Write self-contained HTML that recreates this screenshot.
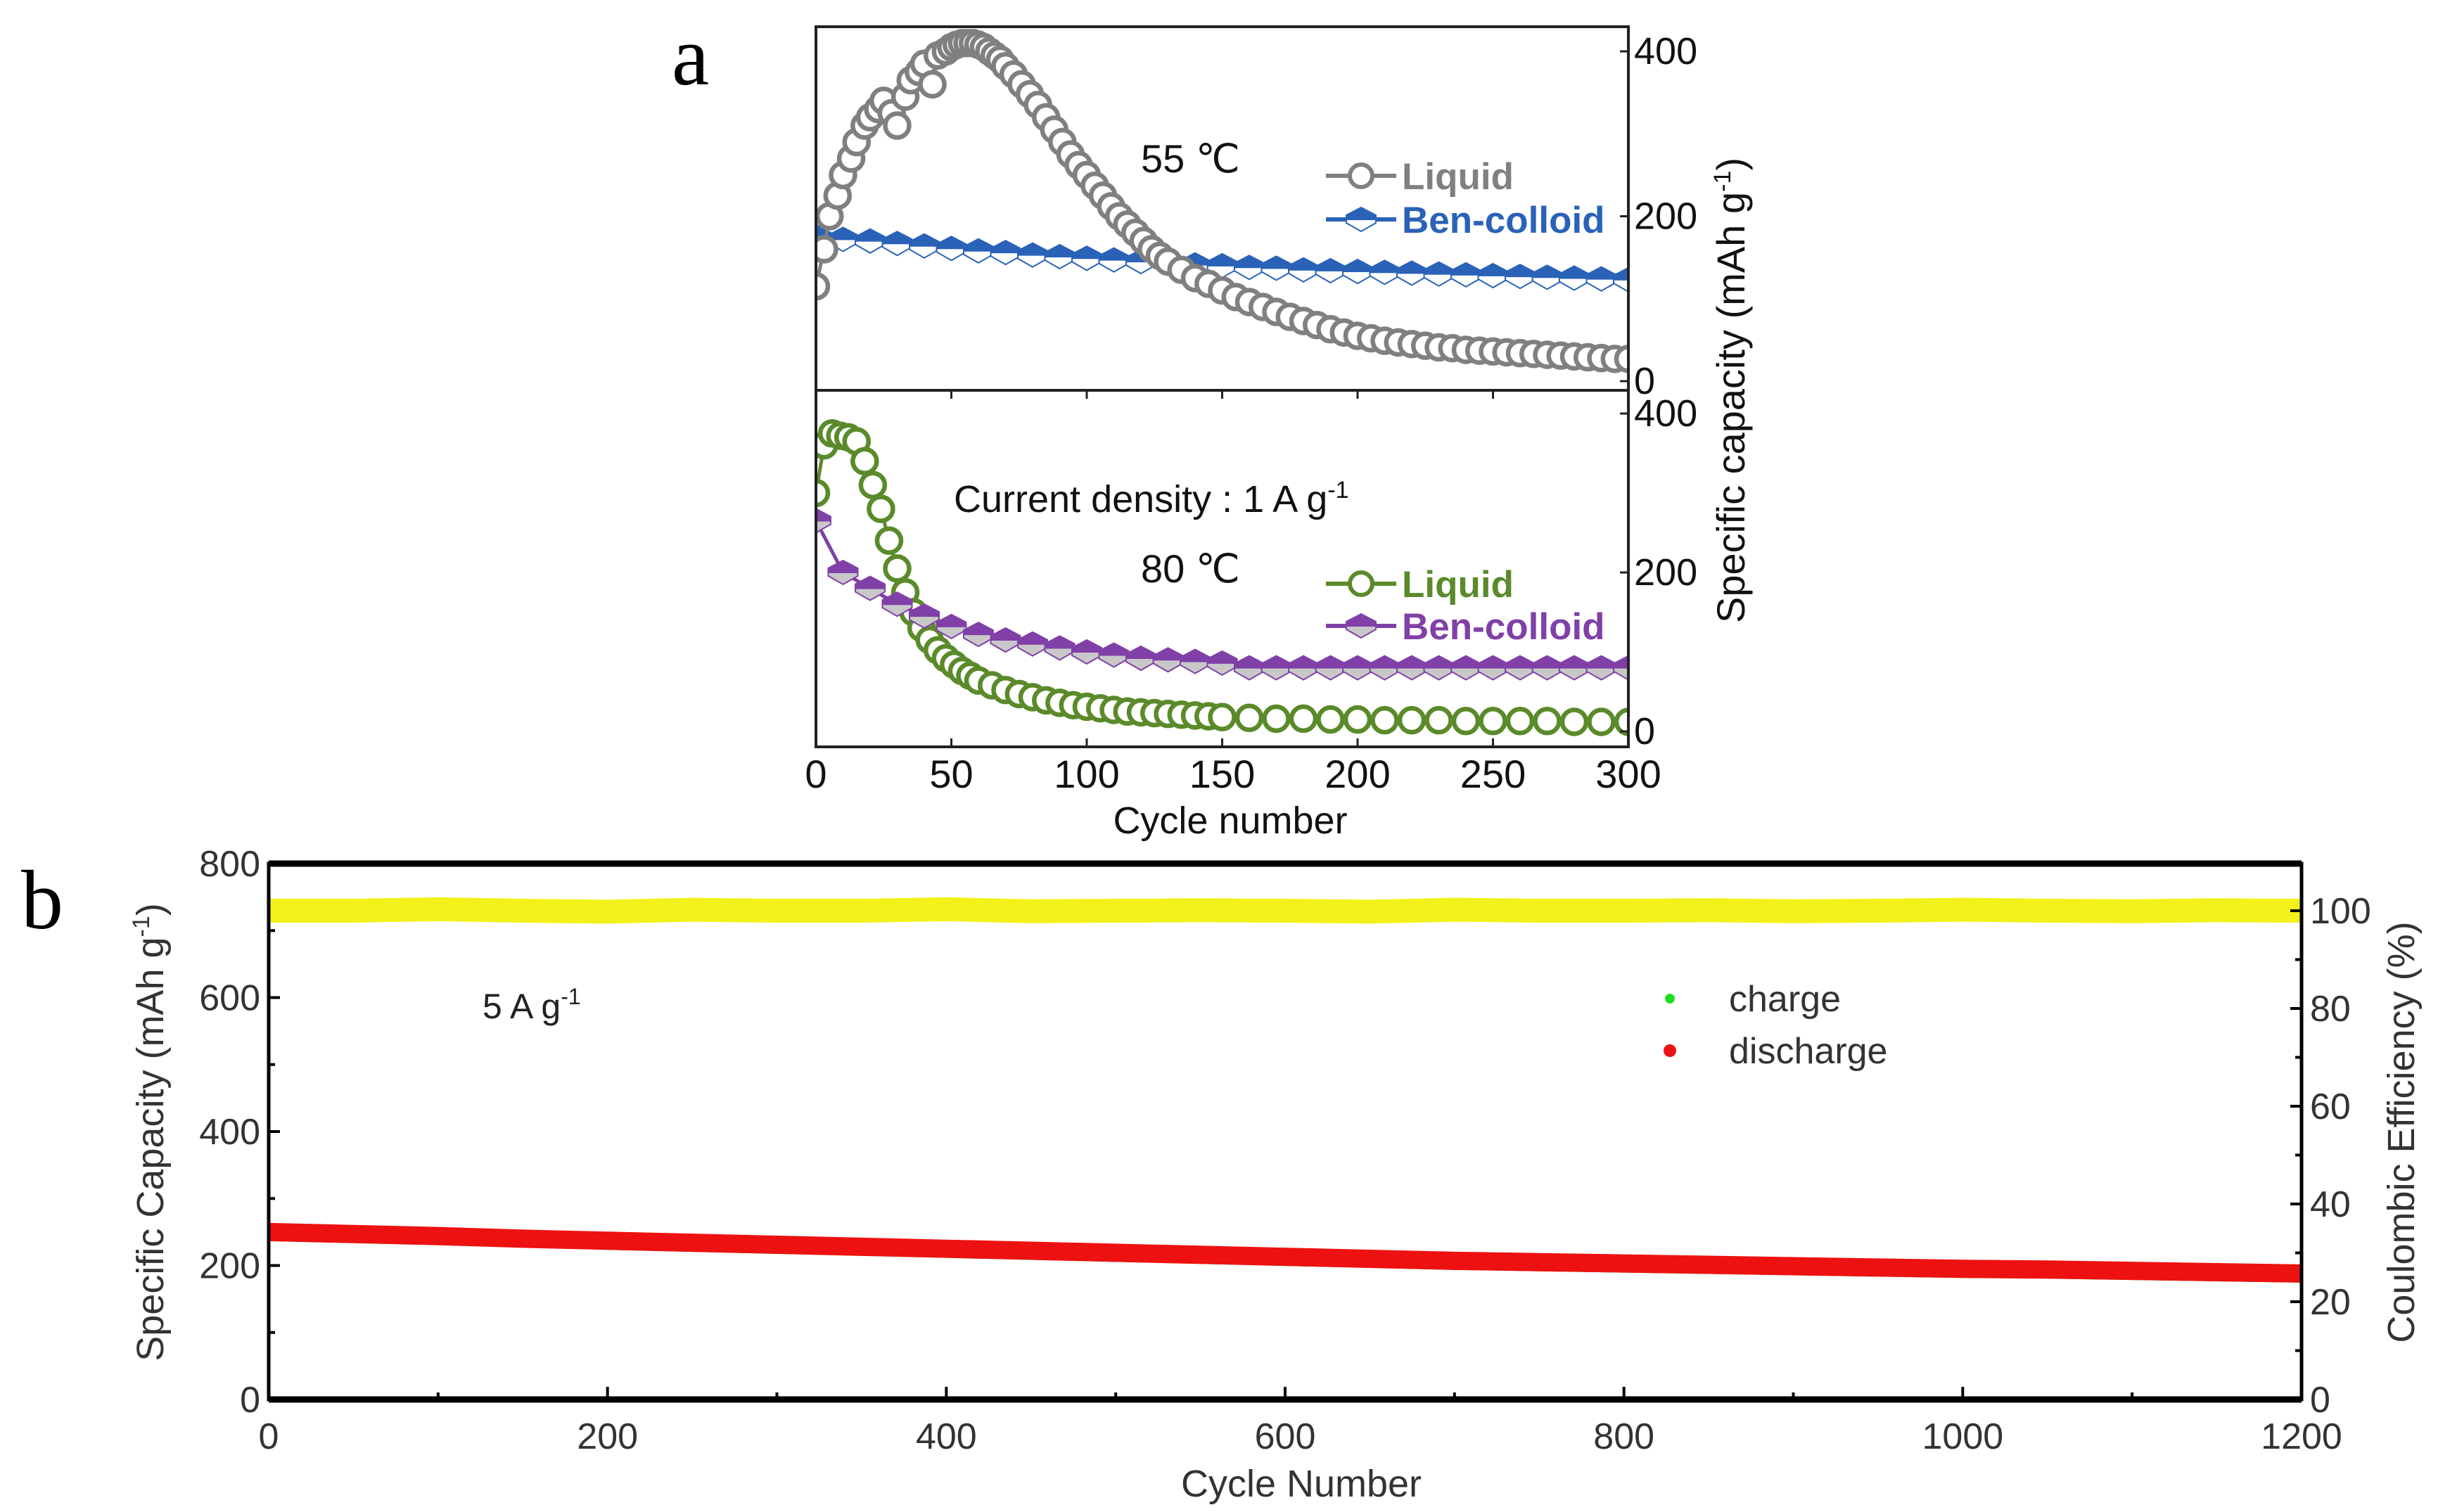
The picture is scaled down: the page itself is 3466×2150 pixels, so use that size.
<!DOCTYPE html>
<html><head><meta charset="utf-8">
<style>
html,body{margin:0;padding:0;background:#fff;}
svg{display:block;font-family:"Liberation Sans",sans-serif;}
</style></head>
<body>
<svg id="fig" width="3466" height="2150" viewBox="0 0 3466 2150" xmlns="http://www.w3.org/2000/svg">
<g id="pa"></g>
<g id="pb"></g>
</svg>
<script>
// ---------- Panel a data ----------
const liq55X = [0,3,5,8,10,13,15,18,20,23,25,28,30,33,35,38,40,43,45,48,50,52,54,56,58,60,62,64,66,68,70,73,76,79,82,85,88,91,94,97,100,103,106,109,112,115,118,121,124,127,130,135,140,145,150,155,160,165,170,175,180,185,190,195,200,205,210,215,220,225,230,235,240,245,250,255,260,265,270,275,280,285,290,295,300];
const liq55Y = [115,160,200,225,250,270,290,310,320,330,340,325,310,345,365,375,385,360,395,400,405,408,410,410,410,408,405,400,395,390,382,372,360,348,335,320,305,290,275,262,250,237,225,212,200,190,180,170,160,152,145,135,125,118,110,102,96,90,84,78,73,68,63,59,55,52,49,47,45,43,41,40,38,37,36,35,34,33,32,31,30,29,28,27,27];
const ben55X = [0,10,20,30,40,50,60,70,80,90,100,110,120,130,140,150,160,170,180,190,200,210,220,230,240,250,260,270,280,290,300];
const ben55Y = [175,172,170,167,164,161,158,156,153,151,149,147,145,143,141,140,138,137,135,134,133,132,131,130,129,128,127,126,125,124,123];
const liq80X = [0,3,6,9,12,15,18,21,24,27,30,33,36,39,42,45,48,51,54,57,60,65,70,75,80,85,90,95,100,105,110,115,120,125,130,135,140,145,150,160,170,180,190,200,210,220,230,240,250,260,270,280,290,300];
const liq80Y = [300,360,375,372,370,365,340,310,280,240,205,175,150,130,115,102,92,84,76,70,64,58,52,47,43,39,36,33,31,29,27,25,24,23,22,21,20,19,18,17,16,16,15,15,14,14,14,13,13,13,13,12,12,12];
const ben80X = [0,10,20,30,40,50,60,70,80,90,100,110,120,130,140,150,160,170,180,190,200,210,220,230,240,250,260,270,280,290,300];
const ben80Y = [265,200,180,160,145,132,122,115,110,105,100,96,92,90,88,86,80,80,80,80,80,80,80,80,80,80,80,80,80,80,80];
const aXTicks = [0,50,100,150,200,250,300];
const aYTicks = [0,200,400];

// ---------- Panel b data ----------
const bX = [0,50,100,150,200,250,300,350,400,450,500,550,600,650,700,750,800,850,900,950,1000,1050,1100,1150,1200];
const dischargeY = [250,247,244,240,237,234,231,228,225,222,219,216,213,210,207,205,203,201,199,197,195,194,192,190,188];
const chargeY = [249,246,243,240,236,233,230,227,224,221,218,215,212,209,206,204,202,200,198,196,194,193,191,189,187];
const ceY = [100,100,100.3,100,99.8,100.2,100,100,100.3,99.9,100,100.1,100,99.8,100.2,100,100,100.1,99.9,100,100.2,100,99.9,100.1,100];
const bXTicks = [0,200,400,600,800,1000,1200];
const bYTicks = [0,200,400,600,800];
const bY2Ticks = [0,20,40,60,80,100];

const NS = "http://www.w3.org/2000/svg";
function mk(tag, attrs, parent, txt){
  const e = document.createElementNS(NS, tag);
  for (const k in attrs) e.setAttribute(k, attrs[k]);
  if (txt !== undefined) e.textContent = txt;
  parent.appendChild(e);
  return e;
}
const pa = document.getElementById('pa');
const pb = document.getElementById('pb');

// ===== Panel a =====
const aL = 1160, aR = 2315;
const ax = v => aL + (v/300)*(aR-aL);
const topY = v => 542 - (v/400)*(542-73);
const botY = v => 1040 - (v/400)*(1040-588);

let t = mk('text',{x:955,y:120,'font-family':'Liberation Serif, serif','font-size':120},pa,'a');



function hexMarker(parent, cx, cy, color, lowerFill, name){
  const g = mk('g',{},parent);
  
  
  const w = 21, h = 17;
  mk('path',{d:`M${cx-w},${cy} L${cx-w},${cy-6} L${cx},${cy-h} L${cx+w},${cy-6} L${cx+w},${cy} Z`,fill:color,stroke:color,'stroke-width':2},g);
  mk('path',{d:`M${cx-w},${cy} L${cx-w},${cy+5} L${cx},${cy+h} L${cx+w},${cy+5} L${cx+w},${cy} Z`,fill:lowerFill,stroke:color,'stroke-width':2},g);
}
function circleSeries(parent, xs, ys, fy, color, name){
  const pts = xs.map((x,i)=>ax(x)+','+fy(ys[i])).join(' ');
  const l = mk('polyline',{points:pts,fill:'none',stroke:color,'stroke-width':5},parent);
  
  
  xs.forEach((x,i)=>{
    const c = mk('circle',{cx:ax(x),cy:fy(ys[i]),r:17,fill:'#fff',stroke:color,'stroke-width':6.5},parent);
    
    
  });
}
function hexSeries(parent, xs, ys, fy, color, lower, name){
  const pts = xs.map((x,i)=>ax(x)+','+fy(ys[i])).join(' ');
  const l = mk('polyline',{points:pts,fill:'none',stroke:color,'stroke-width':5},parent);
  
  
  xs.forEach((x,i)=>hexMarker(parent, ax(x), fy(ys[i]), color, lower, name+'-point'));
}

const clipT = mk('clipPath',{id:'cT'},pa); mk('rect',{x:aL,y:40,width:aR-aL,height:515},clipT);
const clipB = mk('clipPath',{id:'cB'},pa); mk('rect',{x:aL,y:555,width:aR-aL,height:507},clipB);
const gT = mk('g',{'clip-path':'url(#cT)'},pa);


hexSeries(gT, ben55X, ben55Y, topY, '#2a62b8', '#fff', 'ben-colloid-55');
circleSeries(gT, liq55X, liq55Y, topY, '#808080', 'liquid-55');
const gB = mk('g',{'clip-path':'url(#cB)'},pa);


circleSeries(gB, liq80X, liq80Y, botY, '#5a8a2a', 'liquid-80');
hexSeries(gB, ben80X, ben80Y, botY, '#8040a8', '#c8c8c8', 'ben-colloid-80');

let r = mk('rect',{x:aL,y:38,width:aR-aL,height:517,fill:'none',stroke:'#222','stroke-width':4},pa);
 
r = mk('rect',{x:aL,y:555,width:aR-aL,height:507,fill:'none',stroke:'#222','stroke-width':4},pa);
 

aXTicks.forEach(v=>{
  mk('line',{x1:ax(v),x2:ax(v),y1:1062,y2:1050,stroke:'#222','stroke-width':3},pa);
  mk('line',{x1:ax(v),x2:ax(v),y1:555,y2:567,stroke:'#222','stroke-width':3},pa);
  const tt = mk('text',{x:ax(v),y:1120,'font-size':56,'text-anchor':'middle',fill:'#111'},pa,String(v));
  
  
});
aYTicks.forEach(v=>{
  [[topY,'top'],[botY,'bottom']].forEach(([f,nm])=>{
    mk('line',{x1:aR,x2:aR-12,y1:f(v),y2:f(v),stroke:'#222','stroke-width':3},pa);
    const tt = mk('text',{x:aR+8,y:f(v)+18,'font-size':54,fill:'#111'},pa,String(v));
    
    
  });
});
t = mk('text',{x:1749,y:1185,'font-size':54,'text-anchor':'middle',fill:'#111'},pa,'Cycle number');
 
t = mk('text',{transform:'translate(2480,555) rotate(-90)','font-size':56,'text-anchor':'middle',fill:'#111'},pa);
 
t.innerHTML = 'Specific capacity  (mAh g<tspan dy="-20" font-size="34">-1</tspan><tspan dy="20">)</tspan>';

function txt(parent,x,y,s,size,fill,name,weight){
  const e = mk('text',{x:x,y:y,'font-size':size,fill:fill,'font-weight':weight||'normal'},parent,s);
  
  
  return e;
}
txt(pa,1622,245,'55 ℃',56,'#111','label-55c');
txt(pa,1622,828,'80 ℃',56,'#111','label-80c');
t = txt(pa,1356,728,'',54,'#111','current-density-label');
t.innerHTML = 'Current density : 1 A g<tspan dy="-20" font-size="34">-1</tspan>';

function legendEntry(parent,y,color,label,kind,lower,name){
  const g = mk('g',{},parent);
  
  
  mk('line',{x1:1885,x2:1985,y1:y,y2:y,stroke:color,'stroke-width':6},g);
  if(kind==='c') mk('circle',{cx:1935,cy:y,r:16,fill:'#fff',stroke:color,'stroke-width':6},g);
  else hexMarker(g,1935,y,color,lower,name+'-marker');
  mk('text',{x:1993,y:y+19,'font-size':53,'font-weight':'bold',fill:color},g,label);
}
legendEntry(pa,250,'#808080','Liquid','c','','legend-liquid-55');
legendEntry(pa,312,'#2a62b8','Ben-colloid','h','#fff','legend-ben-colloid-55');
legendEntry(pa,830,'#5a8a2a','Liquid','c','','legend-liquid-80');
legendEntry(pa,890,'#8040a8','Ben-colloid','h','#c8c8c8','legend-ben-colloid-80');

// ===== Panel b =====
const bL = 382, bR = 3272, bT = 1228, bB = 1990;
const bx = v => bL + (v/1200)*(bR-bL);
const by = v => bB - (v/800)*(bB-bT);
const by2 = v => bB - (v/100)*(bB-1295);

t = mk('text',{x:30,y:1320,'font-family':'Liberation Serif, serif','font-size':120},pb,'b');
 

function band(xs, ys, f, color, w, name){
  const pts = xs.map((x,i)=>bx(x)+','+f(ys[i])).join(' ');
  const l = mk('polyline',{points:pts,fill:'none',stroke:color,'stroke-width':w,'stroke-linejoin':'round'},pb);
  
  
}
band(bX, ceY, by2, '#f2f21a', 34, 'coulombic-efficiency-series');
band(bX, chargeY, by, '#22cc22', 24, 'charge-series');
band(bX, dischargeY, by, '#ee1111', 26, 'discharge-series');

r = mk('rect',{x:bL,y:bT,width:bR-bL,height:bB-bT,fill:'none',stroke:'#000','stroke-width':5},pb);
 
mk('line',{x1:bL,x2:bR,y1:bT,y2:bT,stroke:'#000','stroke-width':9},pb);
mk('line',{x1:bL,x2:bR,y1:bB,y2:bB,stroke:'#000','stroke-width':9},pb);

for(let v=0; v<=1200; v+=100){
  const big = v%200===0;
  mk('line',{x1:bx(v),x2:bx(v),y1:bB,y2:bB-(big?18:10),stroke:'#000','stroke-width':4},pb);
}
bXTicks.forEach(v=>{
  const tt = mk('text',{x:bx(v),y:2060,'font-size':52,'text-anchor':'middle',fill:'#333'},pb,String(v));
  
  
});
for(let v=0; v<=800; v+=100){
  mk('line',{x1:bL,x2:bL+(v%200===0?16:9),y1:by(v),y2:by(v),stroke:'#000','stroke-width':4},pb);
}
bYTicks.forEach(v=>{
  const tt = mk('text',{x:bL-12,y:by(v)+18,'font-size':52,'text-anchor':'end',fill:'#333'},pb,String(v));
  
  
});
for(let v=0; v<=100; v+=10){
  mk('line',{x1:bR,x2:bR-(v%20===0?16:9),y1:by2(v),y2:by2(v),stroke:'#000','stroke-width':4},pb);
}
bY2Ticks.forEach(v=>{
  const tt = mk('text',{x:bR+12,y:by2(v)+18,'font-size':52,fill:'#333'},pb,String(v));
  
  
});
t = mk('text',{x:1850,y:2128,'font-size':54,'text-anchor':'middle',fill:'#333'},pb,'Cycle Number');
 
t = mk('text',{transform:'translate(232,1610) rotate(-90)','font-size':54,'text-anchor':'middle',fill:'#333'},pb);
 
t.innerHTML = 'Specific Capacity (mAh g<tspan dy="-20" font-size="34">-1</tspan><tspan dy="20">)</tspan>';
t = mk('text',{transform:'translate(3432,1610) rotate(-90)','font-size':54,'text-anchor':'middle',fill:'#333'},pb,'Coulombic Efficiency (%)');
 
t = txt(pb,686,1448,'',50,'#222','current-density-b');
t.innerHTML = '5 A g<tspan dy="-20" font-size="32">-1</tspan>';

let lg = mk('g',{},pb);


mk('circle',{cx:2374,cy:1420,r:7,fill:'#22dd22'},lg);
mk('text',{x:2458,y:1438,'font-size':52,fill:'#333'},lg,'charge');
lg = mk('g',{},pb);


mk('circle',{cx:2374,cy:1494,r:9,fill:'#ee1111'},lg);
mk('text',{x:2458,y:1512,'font-size':52,fill:'#333'},lg,'discharge');
</script>
</body></html>
